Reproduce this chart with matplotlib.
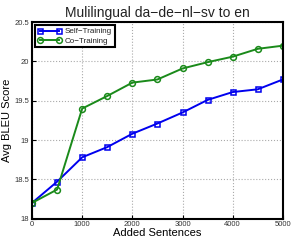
import matplotlib
matplotlib.use('Agg')
from matplotlib import pyplot as plt

added = [0, 500, 1000, 1500, 2000, 2500, 3000, 3500, 4000, 4500, 5000]
self_training = [18.2, 18.47, 18.78, 18.91, 19.08, 19.21, 19.35, 19.51, 19.61, 19.645, 19.77]
co_training = [18.2, 18.37, 19.40, 19.56, 19.73, 19.77, 19.91, 19.99, 20.06, 20.16, 20.20]

xticks = [0, 1000, 2000, 3000, 4000, 5000]
yticks = [18, 18.5, 19, 19.5, 20, 20.5]
ytick_labels = ['18', '18.5', '19', '19.5', '20', '20.5']

plt.rcParams['font.family'] = ['Liberation Sans', 'DejaVu Sans']
plt.rcParams['text.color'] = '#222222'

fig = plt.figure(figsize=(2.91, 2.4), dpi=100)
ax = fig.add_axes([0.110, 0.089, 0.862, 0.819])

ax.plot(added, self_training, color='#0000ee', lw=1.4, marker='s', ms=3.6,
        mfc='none', mew=1.1, label='Self\u2212Training')
ax.plot(added, co_training, color='#1a8a1a', lw=1.4, marker='o', ms=4.2,
        mfc='none', mew=1.1, label='Co\u2212Training')

ax.set_xlim(0, 5000)
ax.set_ylim(18, 20.5)
ax.set_xticks(xticks)
ax.set_xticklabels([str(t) for t in xticks])
ax.set_yticks(yticks)
ax.set_yticklabels(ytick_labels)
ax.tick_params(direction='in', labelsize=5.5, length=3, pad=2, labelcolor='#333333')
ax.grid(True, linestyle=':', color='#aaaaaa', lw=0.8)
for s in ax.spines.values():
    s.set_linewidth(1.5)

ax.set_title('Mulilingual da\u2212de\u2212nl\u2212sv to en', fontsize=10, pad=4)
ax.set_xlabel('Added Sentences', fontsize=8, labelpad=0)
ax.set_ylabel('Avg BLEU Score', fontsize=8, labelpad=2)

leg = ax.legend(loc='upper left', fontsize=5.8, numpoints=2, fancybox=False,
                borderaxespad=0.4, handlelength=3, handletextpad=0.4,
                borderpad=0.3, labelspacing=0.25, framealpha=1)
leg.get_frame().set_edgecolor('black')
leg.get_frame().set_linewidth(1.5)

fig.savefig('out.png', dpi=100)
